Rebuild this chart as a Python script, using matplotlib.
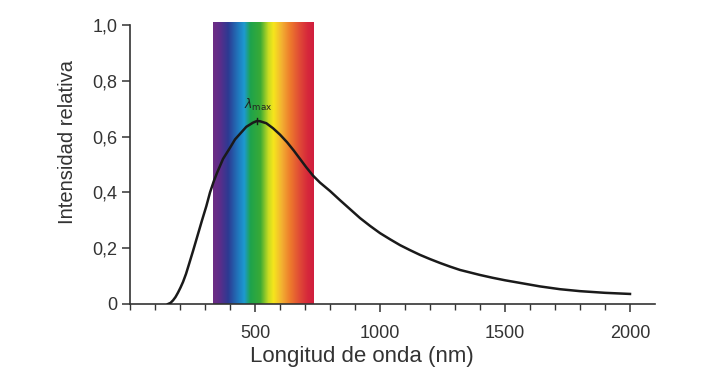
import numpy as np
import matplotlib.pyplot as plt
from matplotlib.colors import LinearSegmentedColormap

plt.rcParams['font.family'] = ['Liberation Sans', 'DejaVu Sans']

# curve (nm, relative intensity)
wavelength = [152, 162, 172, 182, 192, 202, 212, 224, 235, 252, 270, 288, 305, 320, 335,
              348, 372, 400, 420, 440, 465, 492, 508, 520, 545, 572, 600, 628, 655,
              680, 705, 732, 760, 800, 840, 880, 920, 960, 1000, 1040, 1080, 1120,
              1160, 1200, 1240, 1280, 1320, 1360, 1400, 1450, 1500, 1570, 1640, 1720,
              1800, 1900, 2000]
intensity = [0.0, 0.004, 0.013, 0.025, 0.041, 0.059, 0.079, 0.108, 0.14, 0.19, 0.245, 0.30,
             0.35, 0.40, 0.44, 0.47, 0.52, 0.56, 0.59, 0.61, 0.635, 0.65, 0.656, 0.655,
             0.648, 0.63, 0.607, 0.58, 0.55, 0.52, 0.49, 0.46, 0.435, 0.405, 0.372,
             0.34, 0.308, 0.28, 0.254, 0.232, 0.211, 0.193, 0.176, 0.161, 0.147, 0.134,
             0.122, 0.113, 0.104, 0.094, 0.085, 0.074, 0.063, 0.053, 0.046, 0.04, 0.036]

peak_nm = 508
peak_val = 0.656

# visible band
band = (332, 736)
band_stops = [0.0, 0.07, 0.15, 0.25, 0.31, 0.37, 0.47, 0.55, 0.60, 0.68, 0.76, 0.86, 0.94, 1.0]
band_colors = ['#6e2c85', '#5b2d8a', '#2c3a92', '#2078bd', '#1d9ad0', '#1ea34c',
               '#3aaa35', '#c9dc22', '#f6e61c', '#f3b232', '#ee7e2c', '#e04a36',
               '#d6283b', '#d01f3e']

yticks = [0, 0.2, 0.4, 0.6, 0.8, 1.0]
ytick_labels = ['0', '0,2', '0,4', '0,6', '0,8', '1,0']
xticks = [500, 1000, 1500, 2000]

fig = plt.figure(figsize=(7.24, 3.74), dpi=100)
ax = fig.add_axes([0.1796, 0.1872, 0.7251, 0.7534])

cmap = LinearSegmentedColormap.from_list('spec', list(zip(band_stops, band_colors)))
grad = np.linspace(0, 1, 256).reshape(1, -1)
ax.imshow(grad, cmap=cmap, extent=[band[0], band[1], 0, 1.008], aspect='auto',
          interpolation='bilinear', zorder=1)

ax.plot(wavelength, intensity, color='#1a1a1a', lw=1.8, zorder=3)
ax.plot([peak_nm, peak_nm], [peak_val - 0.012, peak_val + 0.012], color='#1a1a1a',
        lw=1.0, zorder=3)
ax.text(peak_nm + 5, 0.715, r'$\lambda_{\rm max}$', ha='center', va='center',
        fontsize=9, color='#222222', zorder=4)

ax.set_xlim(0, 2100)
ax.set_ylim(0, 1.01)
for side in ['top', 'right']:
    ax.spines[side].set_visible(False)
ax.spines['left'].set_bounds(0, 1.0)
ax.spines['left'].set_color('#333333')
ax.spines['bottom'].set_color('#333333')
ax.spines['left'].set_linewidth(1.2)
ax.spines['bottom'].set_linewidth(1.2)

ax.set_yticks(yticks)
ax.set_yticklabels(ytick_labels)
ax.set_xticks(xticks)
ax.set_xticks(np.arange(0, 2100, 100), minor=True)
ax.tick_params(axis='both', which='major', length=6, width=1.1, color='#333333',
               labelsize=13, labelcolor='#333333')
ax.tick_params(axis='x', which='minor', length=4, width=1.0, color='#333333')
ax.tick_params(axis='x', pad=9)
ax.tick_params(axis='y', pad=3)

ax.set_xlabel('Longitud de onda (nm)', fontsize=16, color='#333333', va='center')
ax.xaxis.set_label_coords(0.442, -0.188)
ax.set_ylabel('Intensidad relativa', fontsize=14.5, color='#333333', va='center')
ax.yaxis.set_label_coords(-0.119, 0.575)

fig.savefig('out.png', dpi=100)
